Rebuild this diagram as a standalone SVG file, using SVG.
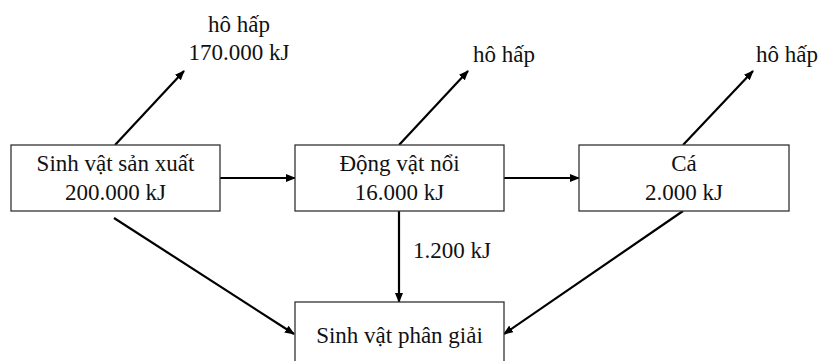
<svg xmlns="http://www.w3.org/2000/svg" width="822" height="361" viewBox="0 0 822 361">
<style>
.box{fill:#fff;stroke:#333;stroke-width:1.3}
text{font-family:'Liberation Serif','Times New Roman',Times,serif;font-size:23px;fill:#111}
.m{text-anchor:middle}
.c{stroke:#000;stroke-width:2.2;fill:none;marker-end:url(#ah)}
</style>
<defs>
<marker id="ah" markerUnits="userSpaceOnUse" markerWidth="10" markerHeight="8" refX="9" refY="4" orient="auto">
<path d="M0,0 L10,4 L0,8 Z" fill="#000"/>
</marker>
</defs>
<g id="connectors">
<line class="c" x1="115" y1="145" x2="184" y2="71"/>
<line class="c" x1="399" y1="145" x2="468" y2="71"/>
<line class="c" x1="683" y1="145" x2="753" y2="71"/>
<line class="c" x1="220" y1="178" x2="295" y2="178"/>
<line class="c" x1="504" y1="178" x2="579" y2="178"/>
<line class="c" x1="399" y1="211" x2="399" y2="302"/>
<line class="c" x1="114" y1="218" x2="294" y2="334"/>
<line class="c" x1="683" y1="211" x2="504" y2="334"/>
<text x="413" y="258" font-family="Liberation Serif, serif">1.200 kJ</text>
<text class="m" x="239" y="32" font-family="Liberation Serif, serif">hô hấp</text>
<text class="m" x="239" y="60" font-family="Liberation Serif, serif">170.000 kJ</text>
<text class="m" x="504" y="62" font-family="Liberation Serif, serif">hô hấp</text>
<text class="m" x="787" y="62" font-family="Liberation Serif, serif">hô hấp</text>
</g>
<g id="producer" font-family="Liberation Serif, serif">
<rect class="box" x="11" y="145" width="209" height="66"/>
<text class="m" x="115.5" y="171">Sinh vật sản xuất</text>
<text class="m" x="115.5" y="200">200.000 kJ</text>
</g>
<g id="zooplankton">
<rect class="box" x="295" y="145" width="209" height="66"/>
<text class="m" x="399.5" y="171">Động vật nổi</text>
<text class="m" x="399.5" y="200">16.000 kJ</text>
</g>
<g id="fish">
<rect class="box" x="579" y="145" width="210" height="66"/>
<text class="m" x="684" y="171">Cá</text>
<text class="m" x="684" y="200">2.000 kJ</text>
</g>
<g id="decomposer">
<rect class="box" x="295" y="302" width="209" height="70"/>
<text class="m" x="399.5" y="343">Sinh vật phân giải</text>
</g>
</svg>
